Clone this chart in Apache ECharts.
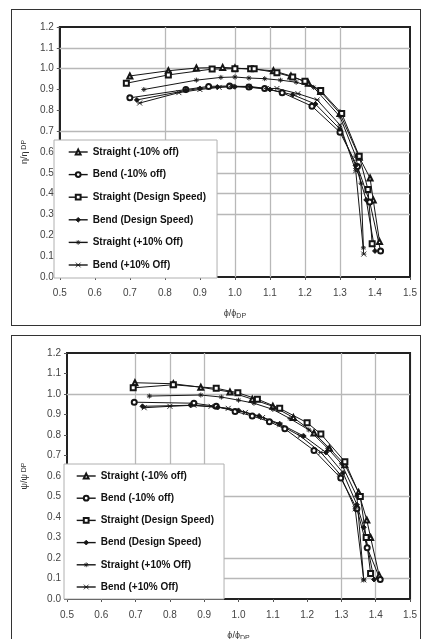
<!DOCTYPE html>
<html>
<head>
<meta charset="utf-8">
<script src="https://cdn.jsdelivr.net/npm/echarts@6/dist/echarts.min.js"></script>
<style>
body{margin:0;background:#fff;width:423px;height:639px;overflow:hidden;position:relative}
.box{position:absolute;left:11px;width:410px;border:1px solid #333;box-sizing:border-box;background:#fff}
.chart{position:absolute;left:0;top:0;width:100%;height:100%}
</style>
</head>
<body>
<div class="box" style="top:9px;height:317px"><div id="c1" class="chart"></div></div>
<div class="box" style="top:335px;height:320px"><div id="c2" class="chart"></div></div>
<script>
// legend names
var seriesNames = ['Straight (-10% off)', 'Bend (-10% off)', 'Straight (Design Speed)',
                   'Bend (Design Speed)', 'Straight (+10% Off)', 'Bend (+10% Off)'];

// efficiency ratio (top chart), [phi/phiDP, eta/etaDP]
var etaStraightM10 = [[0.70,0.965],[0.81,0.99],[0.89,1.003],[0.965,1.006],[1.00,1.003],[1.11,0.99],[1.16,0.965],[1.21,0.93],[1.245,0.89],[1.30,0.785],[1.355,0.575],[1.386,0.475],[1.395,0.37],[1.413,0.17]];
var etaBendM10 = [[0.70,0.86],[0.86,0.90],[0.925,0.915],[0.985,0.917],[1.04,0.912],[1.085,0.905],[1.135,0.885],[1.22,0.82],[1.30,0.695],[1.35,0.53],[1.385,0.36],[1.416,0.125]];
var etaStraightDS = [[0.69,0.93],[0.81,0.97],[0.935,0.998],[1.00,1.0],[1.045,1.0],[1.055,1.0],[1.12,0.98],[1.165,0.96],[1.20,0.94],[1.245,0.895],[1.305,0.785],[1.355,0.58],[1.38,0.42],[1.392,0.16]];
var etaBendDS = [[0.72,0.85],[0.86,0.895],[0.90,0.905],[0.95,0.912],[1.00,0.913],[1.045,0.91],[1.10,0.90],[1.165,0.875],[1.23,0.83],[1.30,0.71],[1.345,0.535],[1.375,0.37],[1.40,0.125]];
var etaStraightP10 = [[0.74,0.90],[0.89,0.945],[0.96,0.958],[1.00,0.96],[1.04,0.955],[1.085,0.952],[1.13,0.945],[1.175,0.935],[1.225,0.91],[1.30,0.77],[1.345,0.58],[1.36,0.45],[1.367,0.14]];
var etaBendP10 = [[0.728,0.835],[0.84,0.885],[0.90,0.90],[0.955,0.91],[0.99,0.915],[1.04,0.915],[1.09,0.905],[1.12,0.905],[1.18,0.88],[1.235,0.85],[1.30,0.73],[1.345,0.51],[1.368,0.11]];

// head ratio (bottom chart), [phi/phiDP, psi/psiDP]
var psiStraightM10 = [[0.698,1.055],[0.81,1.05],[0.89,1.033],[0.975,1.01],[1.04,0.975],[1.10,0.94],[1.16,0.885],[1.22,0.81],[1.265,0.735],[1.31,0.655],[1.35,0.52],[1.374,0.385],[1.385,0.30],[1.41,0.115]];
var psiBendM10 = [[0.696,0.96],[0.87,0.955],[0.935,0.94],[0.99,0.915],[1.04,0.893],[1.09,0.865],[1.135,0.83],[1.22,0.725],[1.298,0.59],[1.345,0.44],[1.375,0.25],[1.413,0.095]];
var psiStraightDS = [[0.693,1.03],[0.81,1.045],[0.935,1.028],[0.998,1.006],[1.055,0.975],[1.12,0.93],[1.20,0.86],[1.24,0.805],[1.31,0.67],[1.355,0.50],[1.372,0.30],[1.385,0.125]];
var psiBendDS = [[0.72,0.94],[0.86,0.945],[0.94,0.935],[1.00,0.92],[1.06,0.893],[1.12,0.855],[1.19,0.795],[1.255,0.715],[1.305,0.615],[1.345,0.46],[1.365,0.35],[1.395,0.095]];
var psiStraightP10 = [[0.74,0.99],[0.89,0.995],[0.95,0.985],[1.00,0.97],[1.045,0.955],[1.10,0.925],[1.15,0.88],[1.205,0.825],[1.26,0.735],[1.30,0.66],[1.345,0.50],[1.365,0.093]];
var psiBendP10 = [[0.725,0.933],[0.80,0.94],[0.87,0.945],[0.92,0.94],[0.97,0.93],[1.02,0.91],[1.07,0.885],[1.12,0.85],[1.18,0.795],[1.24,0.715],[1.295,0.61],[1.34,0.44],[1.365,0.093]];

// gridlines that survive in the scan
var etaGridX = [0.8, 1.0, 1.1, 1.2, 1.3];
var etaGridY = [0.3, 0.4, 0.5, 0.6, 0.7, 1.0, 1.1];
var psiGridX = [0.7, 0.8, 0.9, 1.3, 1.4];
var psiGridY = [0.1, 0.2, 0.5, 1.0];

var FONT = '"Liberation Sans", Arial, sans-serif';
var symbols = ['emptyTriangle', 'emptyCircle', 'emptyRect', 'diamond',
               'path://M0,5L10,5M5,0L5,10M1.5,1.5L8.5,8.5M8.5,1.5L1.5,8.5',
               'path://M0,0L10,10M10,0L0,10M0,5L10,5'];

var buildOption = function (o) {
    var series = o.data.map(function (d, i) {
        return {
            type: 'line',
            name: seriesNames[i],
            data: d,
            symbol: symbols[i],
            symbolSize: 5,
            lineStyle: {color: '#151515', width: 1},
            itemStyle: {color: '#151515', borderColor: '#151515', borderWidth: 0.9},
            z: 3
        };
    });
    // faded grid of the original
    var lines = o.gridX.map(function (v) { return {xAxis: v}; })
        .concat(o.gridY.map(function (v) { return {yAxis: v}; }));
    series.push({
        type: 'line',
        data: [],
        z: 1,
        markLine: {
            silent: true,
            symbol: 'none',
            label: {show: false},
            lineStyle: {color: '#b8b8b8', type: 'solid', width: 1.3},
            data: lines,
            z: 1
        }
    });
    return {
        animation: false,
        grid: {left: o.left, top: 17, width: o.width, height: o.height,
               show: true, borderColor: '#222', borderWidth: 2, backgroundColor: '#fff'},
        legend: {
            orient: 'vertical',
            left: o.left,
            top: o.legendTop,
            itemWidth: 19,
            itemHeight: 6,
            itemGap: o.legendGap,
            padding: o.legendPad,
            backgroundColor: '#fff',
            borderColor: '#b0b0b0',
            borderWidth: 1,
            itemStyle: {borderWidth: 0.8},
            lineStyle: {width: 1.4},
            textStyle: {fontFamily: FONT, fontSize: 10, fontWeight: 'bold', color: '#111', lineHeight: 12},
            data: seriesNames
        },
        xAxis: {
            type: 'value', min: 0.5, max: 1.5, interval: 0.1,
            name: '{a|ϕ/ϕ}{s|DP}',
            nameLocation: 'middle',
            nameGap: o.xNameGap,
            nameTextStyle: {rich: {
                a: {fontFamily: FONT, fontSize: 9, color: '#333'},
                s: {fontFamily: FONT, fontSize: 7, color: '#333', padding: [5, 0, 0, 0]}
            }},
            axisLine: {show: true, lineStyle: {color: '#222', width: 2}},
            axisTick: {show: true, length: 3, lineStyle: {color: '#555'}},
            axisLabel: {fontFamily: FONT, fontSize: 10, color: '#444', margin: 11,
                        formatter: function (v) { return v.toFixed(1); }},
            splitLine: {show: false}
        },
        yAxis: {
            type: 'value', min: 0, max: 1.2, interval: 0.1,
            name: o.yName,
            nameLocation: 'middle',
            nameGap: o.yNameGap,
            nameTextStyle: {rich: {
                a: {fontFamily: FONT, fontSize: 9, color: '#333'},
                s: {fontFamily: FONT, fontSize: 7, color: '#333'}
            }},
            axisLine: {show: true, lineStyle: {color: '#222', width: 2}},
            axisTick: {show: true, length: 3, lineStyle: {color: '#555'}},
            axisLabel: {fontFamily: FONT, fontSize: 10, color: '#444', margin: 6,
                        formatter: function (v) { return v.toFixed(1); }},
            splitLine: {show: false}
        },
        series: series
    };
};

var chart1 = echarts.init(document.getElementById('c1'));
chart1.setOption(buildOption({
    data: [etaStraightM10, etaBendM10, etaStraightDS, etaBendDS, etaStraightP10, etaBendP10],
    gridX: etaGridX, gridY: etaGridY,
    left: 42, width: 356, height: 251,
    legendTop: 130, legendGap: 10.6, legendPad: [6, 11, 7, 14],
    xNameGap: 31, yName: '{a|η/η}{s| DP}', yNameGap: 27
}));

var chart2 = echarts.init(document.getElementById('c2'));
chart2.setOption(buildOption({
    data: [psiStraightM10, psiBendM10, psiStraightDS, psiBendDS, psiStraightP10, psiBendP10],
    gridX: psiGridX, gridY: psiGridY,
    left: 52, width: 350, height: 246,
    legendTop: 128, legendGap: 10.2, legendPad: [6, 10, 6, 12],
    xNameGap: 31, yName: '{a|ψ/ψ}{s| DP}', yNameGap: 38
}));
</script>
</body>
</html>
